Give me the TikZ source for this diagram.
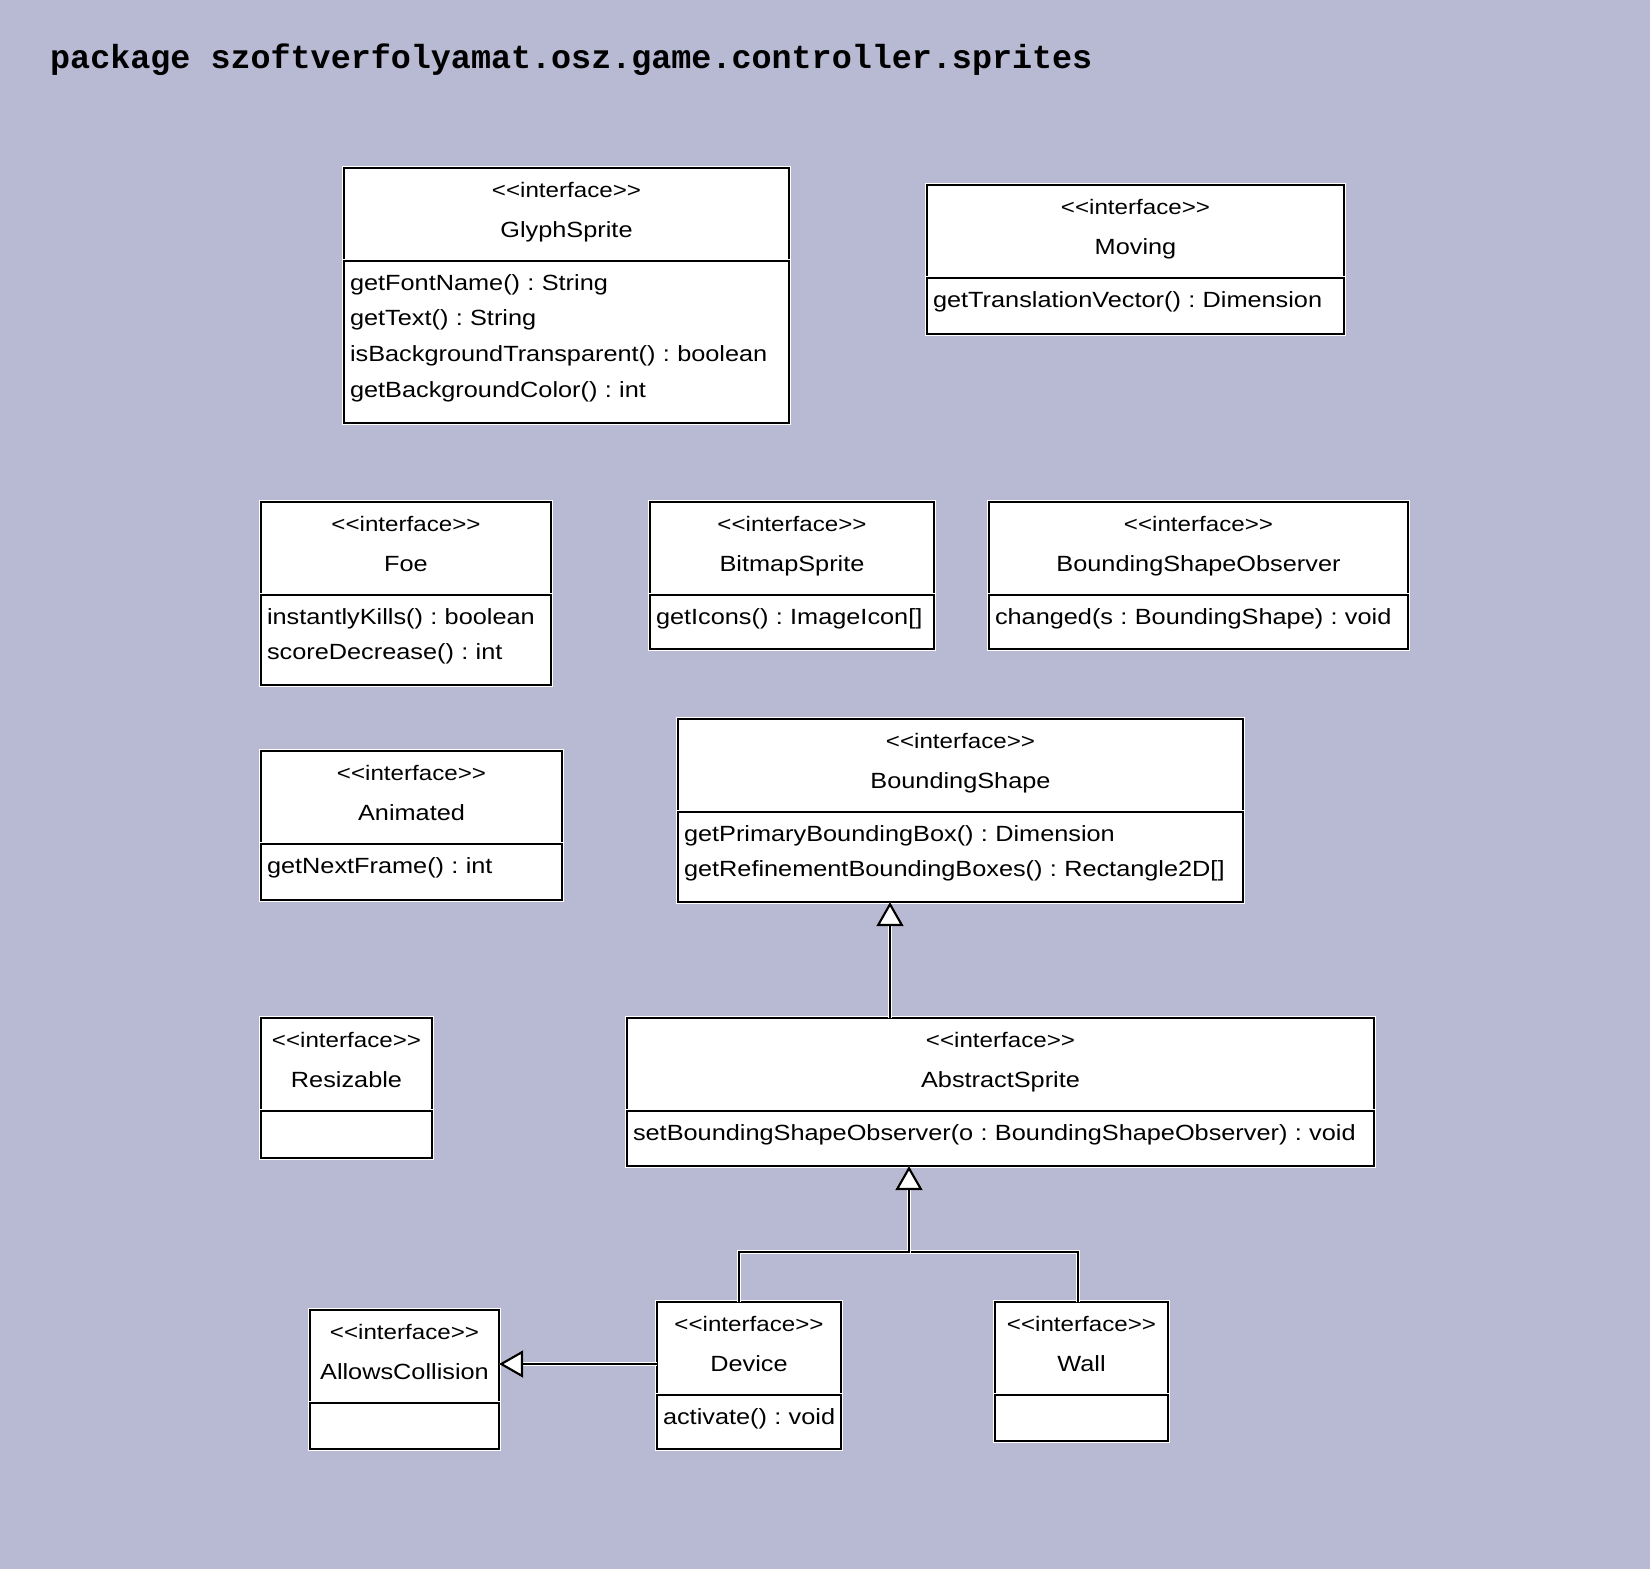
\documentclass[tikz,border=0pt]{standalone}
\usepackage{fontspec}
\newfontfamily\umlfont{Liberation Sans}[FakeStretch=1.15]
\newfontfamily\pkgfont{Liberation Mono}
\usepackage{tikz}
\usetikzlibrary{arrows.meta, positioning}
\definecolor{canvasbg}{RGB}{184,185,210}
\hyphenpenalty=10000
\frenchspacing
\newcommand{\umlname}{\umlfont\fontsize{22}{40}\selectfont}
\newcommand{\umlbody}{\umlfont\fontsize{22}{35.7}\selectfont}
\newcommand{\stereo}{{\fontsize{21}{40}\selectfont <\kern0pt<interface>\kern0pt>}}

\begin{document}
\begin{tikzpicture}[
    x=1pt, y=-1pt,
    halo/.style={preaction={draw=white, line width=4.6pt}},
    hdr/.style={draw=black, line width=2.2pt, fill=white, halo, inner sep=0pt, outer sep=0pt,
        align=center, font=\umlname, text height=29pt, text depth=64pt},
    body/.style={draw=black, line width=2.2pt, fill=white, halo, inner xsep=6pt,
        inner ysep=0pt, outer sep=0pt, align=left, font=\umlbody, text height=29pt},
    conn/.style={line width=2.2pt, halo},
    gen/.style={conn, -{Triangle[open, length=24pt, width=27pt, fill=white]}}
]
\fill[canvasbg] (0,0) rectangle (1650,1569);
\useasboundingbox (0,0) rectangle (1650,1569);

\node[font=\pkgfont\bfseries\fontsize{33.4}{36}\selectfont, anchor=base west, inner sep=0pt]
    (pkg) at (50,68) {package szoftverfolyamat.osz.game.controller.sprites};

% Top row
\node[hdr, text width=445pt] (glyph) at (566.5,214.5) {\stereo\\GlyphSprite};
\node[body, text width=433pt, text depth=133pt, below=0pt of glyph] (glyph-b)
    {getFontName() : String\\getText() : String\\isBackgroundTransparent() : boolean\\getBackgroundColor() : int};

\node[hdr, text width=417pt] (moving) at (1135.5,231.5) {\stereo\\Moving};
\node[body, text width=405pt, text depth=27pt, below=0pt of moving] (moving-b)
    {getTranslationVector() : Dimension};

% Second row
\node[hdr, text width=290pt] (foe) at (406,548.5) {\stereo\\Foe};
\node[body, text width=278pt, text depth=61pt, below=0pt of foe] (foe-b)
    {instantlyKills() : boolean\\scoreDecrease() : int};

\node[hdr, text width=284pt] (bitmap) at (792,548.5) {\stereo\\BitmapSprite};
\node[body, text width=272pt, text depth=25pt, below=0pt of bitmap] (bitmap-b)
    {getIcons()~:~ImageIcon[]};

\node[hdr, text width=419pt] (observer) at (1198.5,548.5) {\stereo\\BoundingShapeObserver};
\node[body, text width=407pt, text depth=25pt, below=0pt of observer] (observer-b)
    {changed(s : BoundingShape) : void};

% Third row
\node[hdr, text width=301pt] (animated) at (411.5,797.5) {\stereo\\Animated};
\node[body, text width=289pt, text depth=27pt, below=0pt of animated] (animated-b)
    {getNextFrame() : int};

\node[hdr, text width=565pt] (bshape) at (960.5,765.5) {\stereo\\BoundingShape};
\node[body, text width=553pt, text depth=61pt, below=0pt of bshape] (bshape-b)
    {getPrimaryBoundingBox() : Dimension\\getRefinementBoundingBoxes() : Rectangle2D[]};

% Fourth row
\node[hdr, text width=171pt] (resizable) at (346.5,1064.5) {\stereo\\Resizable};
\node[body, text width=159pt, text depth=18pt, below=0pt of resizable] (resizable-b) {};

\node[hdr, text width=747pt] (abstract) at (1000.5,1064.5) {\stereo\\AbstractSprite};
\node[body, text width=735pt, text depth=26pt, below=0pt of abstract] (abstract-b)
    {setBoundingShapeObserver(o : BoundingShapeObserver) : void};

% Bottom row
\node[hdr, text width=189pt] (allows) at (404.5,1356.5) {\stereo\\AllowsCollision};
\node[body, text width=177pt, text depth=17pt, below=0pt of allows] (allows-b) {};

\node[hdr, text width=184pt] (device) at (749,1348.5) {\stereo\\Device};
\node[body, text width=172pt, text depth=25pt, below=0pt of device] (device-b)
    {activate()~:~void};

\node[hdr, text width=173pt] (wall) at (1081.5,1348.5) {\stereo\\Wall};
\node[body, text width=161pt, text depth=17pt, below=0pt of wall] (wall-b) {};

% Generalizations
\coordinate (inherit-x) at (890,0);
\coordinate (fork) at (909,1252);
\coordinate (device-leg) at (739,0);
\coordinate (wall-leg) at (1078,0);
\coordinate (collide-y) at (0,1364);

\draw[gen] (abstract.north -| inherit-x) -- (bshape-b.south -| inherit-x);
\draw[conn] (wall.north -| wall-leg) |- (fork);
\draw[gen] (device.north -| device-leg) |- (fork) -- (abstract-b.south -| fork);
\draw[gen] (device.west |- collide-y) -- (allows.east |- collide-y);
\end{tikzpicture}
\end{document}
